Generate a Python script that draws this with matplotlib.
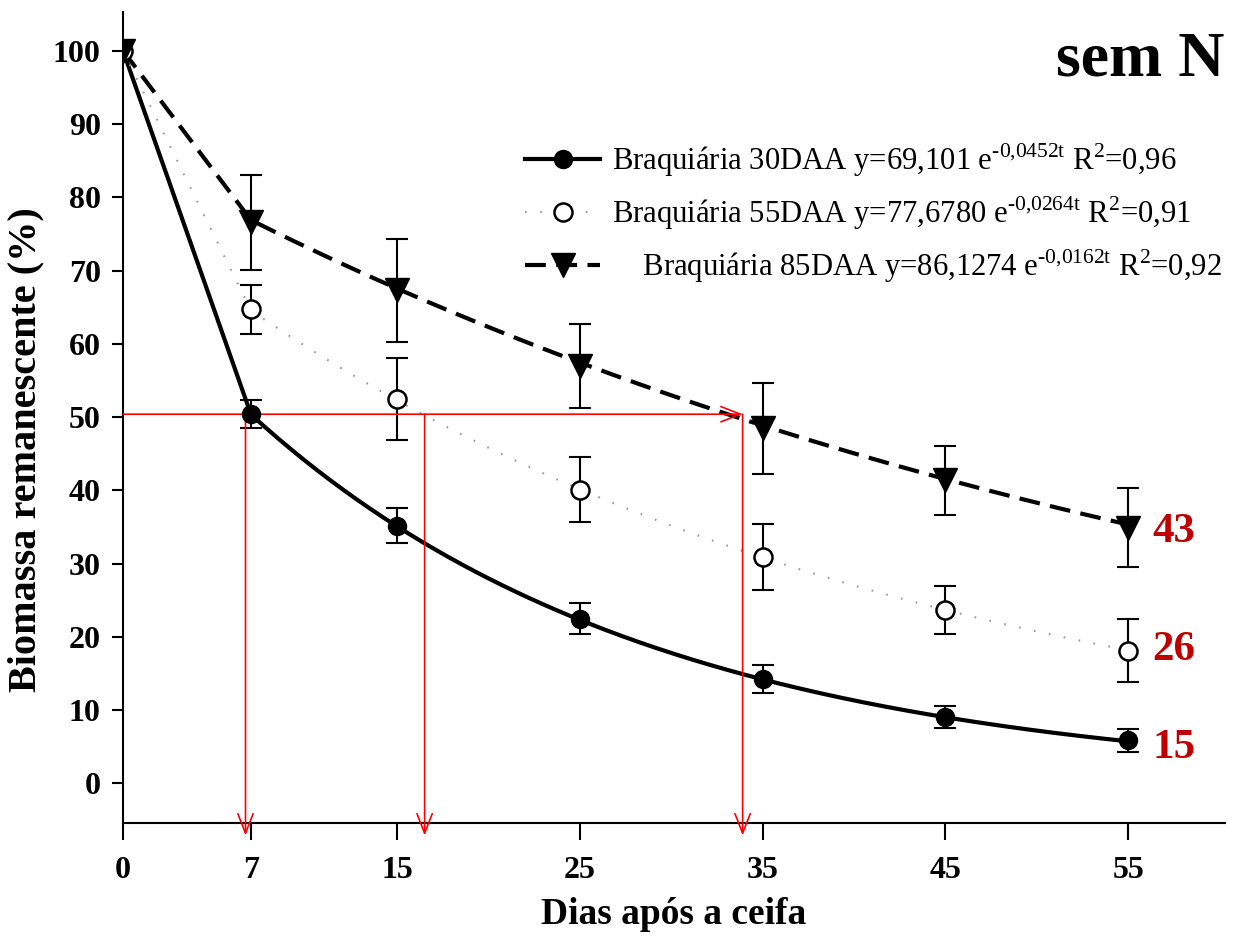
import matplotlib
matplotlib.use("Agg")
import matplotlib.pyplot as plt
import numpy as np

# dados
dias = [0, 7, 15, 25, 35, 45, 55]
b30 = [100, 50.4, 35.2, 22.5, 14.3, 9.1, 5.9]
b30_err = [0, 1.9, 2.4, 2.1, 1.9, 1.5, 1.6]
b55 = [100, 64.7, 52.5, 40.1, 30.9, 23.7, 18.1]
b55_err = [0, 3.3, 5.6, 4.4, 4.5, 3.3, 4.3]
b85 = [100, 76.6, 67.3, 57.0, 48.5, 41.4, 34.9]
b85_err = [0, 6.5, 7.0, 5.7, 6.2, 4.7, 5.4]

# coeficientes das curvas ajustadas (legenda)
fit_a = [69.101, 77.678, 86.1274]
fit_b = [0.0452, 0.0264, 0.0162]

rotulos = [
    r"Braquiária 30DAA y=69,101 e$^{\text{-0,0452t}}$ R$^{\text{2}}$=0,96",
    r"Braquiária 55DAA y=77,6780 e$^{\text{-0,0264t}}$ R$^{\text{2}}$=0,91",
    r"    Braquiária 85DAA y=86,1274 e$^{\text{-0,0162t}}$ R$^{\text{2}}$=0,92",
]
finais = ["15", "26", "43"]
finais_y = [4.9, 18.2, 34.3]

meia_vida_y = 50.4
meia_vida_x = [6.7, 16.5, 33.9]

plt.rcParams["font.family"] = ["Liberation Serif", "DejaVu Serif"]
plt.rcParams["mathtext.fontset"] = "custom"
plt.rcParams["mathtext.rm"] = "Liberation Serif"

fig = plt.figure(figsize=(12.33, 9.36), dpi=100)
ax = fig.add_axes([0.0998, 0.1207, 0.8938, 0.8665])

t = np.linspace(dias[1], dias[-1], 200)
estilos = [
    dict(color="black", lw=3, ls="-"),
    dict(color="#999999", lw=1.5, ls=(0, (0.8, 6.5))),
    dict(color="black", lw=3, ls=(0, (5, 2.5))),
]
marcadores = [
    dict(marker="o", mfc="black", mec="black", ms=13),
    dict(marker="o", mfc="white", mec="black", ms=13, mew=1.8),
    dict(marker="v", mfc="black", mec="black", ms=17),
]
series = [(b30, b30_err), (b55, b55_err), (b85, b85_err)]

handles = []
for i, (y, err) in enumerate(series):
    curva = fit_a[i] * np.exp(-fit_b[i] * t)
    xs = np.concatenate(([dias[0]], t))
    ys = np.concatenate(([y[0]], curva))
    ax.plot(xs, ys, zorder=2, **estilos[i])
    ax.errorbar(dias[1:], y[1:], yerr=err[1:], fmt="none", ecolor="black",
                elinewidth=1.5, capsize=8, capthick=1.5, zorder=3)
    ax.plot(dias, y, ls="none", zorder=4, **marcadores[i])
    h, = ax.plot([], [], label=rotulos[i], **estilos[i], **marcadores[i])
    handles.append(h)

# setas vermelhas (meia-vida)
seta = dict(arrowstyle="->,head_length=1.4,head_width=0.55", color="red", lw=1.2,
            shrinkA=0, shrinkB=0)
ax.annotate("", xy=(meia_vida_x[-1], meia_vida_y), xytext=(0, meia_vida_y),
            arrowprops=seta, annotation_clip=False)
for xv in meia_vida_x:
    ax.annotate("", xy=(xv, -7.1), xytext=(xv, meia_vida_y),
                arrowprops=seta, annotation_clip=False)

for txt, yv in zip(finais, finais_y):
    ax.text(56.3, yv, txt, color="#c00000", fontsize=31, fontweight="bold",
            ha="left", va="center")

fig.text(0.993, 1 - 75 / 936, "sem N", fontsize=46, fontweight="bold",
         ha="right", va="baseline")

ax.legend(handles=handles, loc="upper left", bbox_to_anchor=(0.4258, 0.849),
          bbox_transform=fig.transFigure, frameon=False, fontsize=22.1,
          handlelength=2.45, handletextpad=0.4, labelspacing=0.5,
          borderaxespad=0, borderpad=0)

ax.set_xlim(0, 60.3)
ax.set_ylim(-5.4, 105.3)
ax.set_xticks(dias)
ax.set_yticks(np.arange(0, 101, 10))
ax.spines["top"].set_visible(False)
ax.spines["right"].set_visible(False)
for s in ["left", "bottom"]:
    ax.spines[s].set_linewidth(1.5)
ax.tick_params(axis="x", direction="out", length=12, width=1.5, pad=12, labelsize=23)
ax.tick_params(axis="y", direction="out", length=8, width=1.5, pad=8, labelsize=23)
for lab in ax.get_xticklabels() + ax.get_yticklabels():
    lab.set_fontweight("bold")

ax.set_xlabel("Dias após a ceifa", fontsize=27, fontweight="bold")
ax.set_ylabel("Biomassa remanescente (%)", fontsize=29, fontweight="bold")
ax.xaxis.set_label_coords(0.5, -0.091)
ax.yaxis.set_label_coords(-0.071, 0.46)

fig.savefig("out.png", dpi=100)
